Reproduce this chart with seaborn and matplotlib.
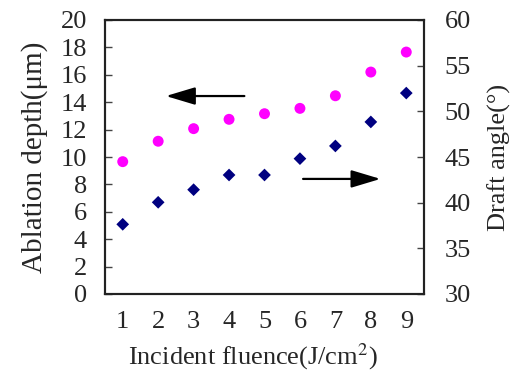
import matplotlib
matplotlib.use("Agg")
import matplotlib.pyplot as plt
import seaborn as sns
import pandas as pd

fluence = [1, 2, 3, 4, 5, 6, 7, 8, 9]
ablation_depth = [9.66, 11.15, 12.07, 12.75, 13.16, 13.55, 14.47, 16.2, 17.66]
draft_angle = [37.63, 40.04, 41.42, 43.03, 43.03, 44.82, 46.21, 48.84, 52.0]
left_ticks = [0, 2, 4, 6, 8, 10, 12, 14, 16, 18, 20]
right_ticks = [30, 35, 40, 45, 50, 55, 60]

sns.set_theme(style="white")
plt.rcParams['font.family'] = ['Liberation Serif', 'DejaVu Serif']
plt.rcParams['mathtext.fontset'] = 'stix'

df = pd.DataFrame({"fluence": fluence, "depth": ablation_depth, "angle": draft_angle})

fig = plt.figure(figsize=(5.15, 3.75), dpi=100)
ax = fig.add_axes([105/515, 1-294/375, (424-105)/515, (294-20)/375])
ax2 = ax.twinx()

sns.scatterplot(data=df, x="fluence", y="depth", ax=ax, color="#FF00FF",
                marker="o", s=62, edgecolor="none", legend=False, zorder=3)
sns.scatterplot(data=df, x="fluence", y="angle", ax=ax2, color="#000080",
                marker="D", s=42, edgecolor="none", legend=False, zorder=3)

ax.set_xlim(0.5, 9.5)
ax.set_ylim(0, 20)
ax2.set_ylim(30, 60)
ax.set_xticks(fluence)
ax.set_xticks([1.5 + i for i in range(8)], minor=True)
ax.set_yticks(left_ticks)
ax2.set_yticks(right_ticks)

fs = 19
ax.tick_params(axis="x", which="major", length=0, labelsize=fs, pad=12)
ax.tick_params(axis="x", which="minor", direction="in", length=5, width=1, color="#444444")
ax.tick_params(axis="y", direction="in", length=5, width=1, labelsize=fs, pad=13, color="#444444")
ax2.tick_params(axis="y", direction="in", length=5, width=1, labelsize=fs, pad=15, color="#444444")

for a in (ax, ax2):
    for sp in a.spines.values():
        sp.set_color("#222222")
        sp.set_linewidth(1.5)

ax.set_xlabel("Incident fluence(J/cm$^2$)", fontsize=fs)
ax.xaxis.set_label_coords(0.465, -0.175)
ax.set_ylabel("Ablation depth(μm)", fontsize=21, labelpad=9)
ax2.set_ylabel("Draft angle(°)", fontsize=fs, labelpad=12)

ax.annotate("", xy=(2.14, 14.45), xytext=(4.51, 14.45),
            arrowprops=dict(arrowstyle="-|>,head_length=1.5,head_width=0.45", color="black", lw=1.6))
ax2.annotate("", xy=(8.35, 42.6), xytext=(6.01, 42.6),
             arrowprops=dict(arrowstyle="-|>,head_length=1.5,head_width=0.45", color="black", lw=1.6))

fig.savefig("out.png", dpi=100)
